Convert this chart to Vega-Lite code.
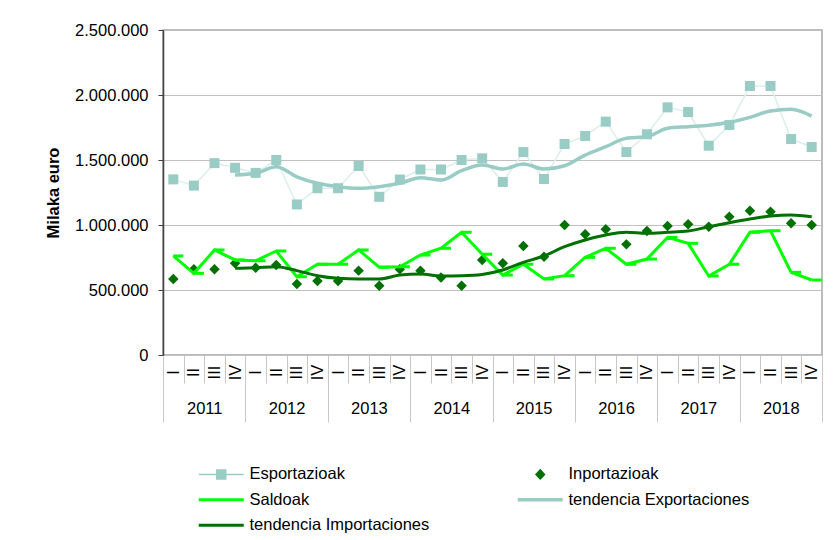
{
  "$schema": "https://vega.github.io/schema/vega-lite/v6.json",
  "width": 659,
  "height": 325,
  "autosize": {"type": "none"},
  "padding": {"left": 163, "top": 30, "right": 11, "bottom": 185},
  "background": "white",
  "config": {
    "font": "Liberation Sans",
    "view": {"stroke": "#A6A6A6", "strokeWidth": 1.5},
    "locale": {"number": {"decimal": ",", "thousands": ".", "grouping": [3], "currency": ["", " €"]}},
    "axisY": {
      "labelFontSize": 16.5, "labelColor": "#000000", "labelPadding": 10,
      "tickSize": 5, "tickColor": "#404040", "domainColor": "#404040", "domainWidth": 1.5,
      "gridColor": "#C0C0C0", "titleFontSize": 16.5, "titleFontWeight": "bold",
      "titleColor": "#000000", "titlePadding": 13
    }
  },
  "data": {
    "values": [
      {"q": "2011-I", "E": 1351000, "I": 585000, "S": 762000, "TE": null, "TI": null},
      {"q": "2011-II", "E": 1303000, "I": 659000, "S": 628000, "TE": null, "TI": null},
      {"q": "2011-III", "E": 1476000, "I": 659000, "S": 808000, "TE": null, "TI": null},
      {"q": "2011-IV", "E": 1440000, "I": 705000, "S": 731000, "TE": 1385000, "TI": 667000},
      {"q": "2012-I", "E": 1401000, "I": 672000, "S": 725000, "TE": 1398000, "TI": 672000},
      {"q": "2012-II", "E": 1500000, "I": 692000, "S": 800000, "TE": 1448000, "TI": 679000},
      {"q": "2012-III", "E": 1158000, "I": 546000, "S": 602000, "TE": 1371000, "TI": 649000},
      {"q": "2012-IV", "E": 1283000, "I": 569000, "S": 698000, "TE": 1321000, "TI": 610000},
      {"q": "2013-I", "E": 1283000, "I": 569000, "S": 698000, "TE": 1295000, "TI": 590000},
      {"q": "2013-II", "E": 1454000, "I": 649000, "S": 808000, "TE": 1282000, "TI": 585000},
      {"q": "2013-III", "E": 1217000, "I": 533000, "S": 675000, "TE": 1295000, "TI": 585000},
      {"q": "2013-IV", "E": 1350000, "I": 659000, "S": 679000, "TE": 1321000, "TI": 615000},
      {"q": "2014-I", "E": 1427000, "I": 649000, "S": 769000, "TE": 1364000, "TI": 623000},
      {"q": "2014-II", "E": 1427000, "I": 597000, "S": 821000, "TE": 1346000, "TI": 608000},
      {"q": "2014-III", "E": 1500000, "I": 533000, "S": 944000, "TE": 1418000, "TI": 610000},
      {"q": "2014-IV", "E": 1513000, "I": 731000, "S": 775000, "TE": 1461000, "TI": 620000},
      {"q": "2015-I", "E": 1331000, "I": 705000, "S": 615000, "TE": 1431000, "TI": 654000},
      {"q": "2015-II", "E": 1561000, "I": 838000, "S": 698000, "TE": 1469000, "TI": 713000},
      {"q": "2015-III", "E": 1354000, "I": 756000, "S": 585000, "TE": 1431000, "TI": 762000},
      {"q": "2015-IV", "E": 1623000, "I": 1000000, "S": 610000, "TE": 1456000, "TI": 833000},
      {"q": "2016-I", "E": 1685000, "I": 928000, "S": 751000, "TE": 1538000, "TI": 885000},
      {"q": "2016-II", "E": 1795000, "I": 967000, "S": 821000, "TE": 1602000, "TI": 923000},
      {"q": "2016-III", "E": 1561000, "I": 851000, "S": 698000, "TE": 1667000, "TI": 944000},
      {"q": "2016-IV", "E": 1698000, "I": 954000, "S": 738000, "TE": 1680000, "TI": 936000},
      {"q": "2017-I", "E": 1905000, "I": 992000, "S": 905000, "TE": 1744000, "TI": 944000},
      {"q": "2017-II", "E": 1869000, "I": 1005000, "S": 859000, "TE": 1756000, "TI": 954000},
      {"q": "2017-III", "E": 1610000, "I": 987000, "S": 608000, "TE": 1767000, "TI": 987000},
      {"q": "2017-IV", "E": 1769000, "I": 1064000, "S": 698000, "TE": 1790000, "TI": 1018000},
      {"q": "2018-I", "E": 2069000, "I": 1110000, "S": 944000, "TE": 1828000, "TI": 1046000},
      {"q": "2018-II", "E": 2069000, "I": 1102000, "S": 956000, "TE": 1877000, "TI": 1069000},
      {"q": "2018-III", "E": 1661000, "I": 1013000, "S": 636000, "TE": 1890000, "TI": 1077000},
      {"q": "2018-IV", "E": 1600000, "I": 1000000, "S": 577000, "TE": 1838000, "TI": 1064000}
    ]
  },
  "resolve": {"axis": {"x": "independent"}},
  "layer": [
    {
      "mark": {"type": "line", "stroke": "#DCEFEA", "strokeWidth": 1.5},
      "encoding": {
        "x": {
          "field": "q", "type": "ordinal",
          "scale": {"type": "band", "paddingInner": 0, "paddingOuter": 0},
          "axis": {
            "orient": "bottom", "title": null, "domain": false, "grid": false,
            "tickBand": "extent", "tickSize": 28, "tickColor": "#C8C8C8", "tickWidth": 1,
            "labelAngle": 270, "labelAlign": "center", "labelBaseline": "middle",
            "labelPadding": -11, "labelFontSize": 16.5, "labelColor": "#000000",
            "labelOverlap": false,
            "labelExpr": "split(datum.value, '-')[1]"
          }
        },
        "y": {
          "field": "E", "type": "quantitative", "title": "Milaka euro",
          "scale": {"domain": [0, 2500000], "nice": false},
          "axis": {"values": [0, 500000, 1000000, 1500000, 2000000, 2500000], "format": ",d"}
        }
      }
    },
    {
      "mark": {"type": "point", "shape": "square", "filled": true, "size": 100, "opacity": 1},
      "encoding": {
        "x": {
          "field": "q", "type": "ordinal",
          "axis": {
            "orient": "bottom", "title": null, "domain": false, "grid": false,
            "tickBand": "extent", "tickSize": 67, "tickColor": "#C8C8C8", "tickWidth": 1,
            "tickOpacity": {"condition": {"test": "datum.extra || indexof(datum.value, '-IV') > 0", "value": 1}, "value": 0},
            "labelAngle": 0, "labelAlign": "center", "labelBaseline": "middle",
            "labelPadding": -14, "labelOffset": 10.3, "labelFontSize": 16.5, "labelColor": "#000000",
            "labelOverlap": false,
            "labelExpr": "split(datum.value, '-')[1] == 'II' ? split(datum.value, '-')[0] : ''"
          }
        },
        "y": {"field": "E", "type": "quantitative", "title": "Milaka euro"},
        "color": {
          "datum": "Esportazioak", "type": "nominal",
          "scale": {
            "domain": ["Esportazioak", "Inportazioak", "Saldoak", "tendencia Exportaciones", "tendencia Importaciones"],
            "range": ["#99CCC4", "#007000", "#00FF00", "#99CCC4", "#007000"]
          },
          "legend": {
            "orient": "none", "legendX": 50, "legendY": 436, "columns": 2, "direction": "horizontal",
            "columnPadding": 80, "rowPadding": 8.5, "title": null, "padding": 0,
            "labelFontSize": 16.5, "labelColor": "#000000", "labelOffset": 20, "labelLimit": 400,
            "symbolSize": 225,
            "encoding": {
              "symbols": {
                "shape": {"value": {"expr": "datum.value == 'Esportazioak' ? 'M-3,0H3M-0.6,-0.6H0.6V0.6H-0.6Z' : datum.value == 'Inportazioak' ? 'M0,-0.75L0.7,0L0,0.75L-0.7,0Z' : 'M-3,0H3'"}},
                "stroke": {"value": {"expr": "datum.value == 'Esportazioak' ? '#DCEFEA' : datum.value == 'Inportazioak' ? 'transparent' : datum.value == 'Saldoak' ? '#00FF00' : datum.value == 'tendencia Exportaciones' ? '#99CCC4' : '#007000'"}},
                "fill": {"value": {"expr": "datum.value == 'Esportazioak' ? '#99CCC4' : datum.value == 'Inportazioak' ? '#007000' : 'transparent'"}},
                "strokeWidth": {"value": {"expr": "datum.value == 'Esportazioak' ? 1.5 : datum.value == 'Inportazioak' ? 0 : datum.value == 'tendencia Exportaciones' ? 3.5 : 3"}},
                "opacity": {"value": 1}
              }
            }
          }
        }
      }
    },
    {
      "mark": {"type": "point", "shape": "diamond", "filled": true, "size": 110, "opacity": 1},
      "encoding": {
        "x": {"field": "q", "type": "ordinal", "axis": null},
        "y": {"field": "I", "type": "quantitative", "title": "Milaka euro"},
        "color": {"datum": "Inportazioak", "type": "nominal"}
      }
    },
    {
      "mark": {"type": "line", "strokeWidth": 3},
      "encoding": {
        "x": {"field": "q", "type": "ordinal", "axis": null},
        "y": {"field": "S", "type": "quantitative", "title": "Milaka euro"},
        "color": {"datum": "Saldoak", "type": "nominal"}
      }
    },
    {
      "mark": {"type": "point", "shape": "M0,0H1", "filled": false, "size": 400, "strokeWidth": 3, "opacity": 1},
      "encoding": {
        "x": {"field": "q", "type": "ordinal", "axis": null},
        "y": {"field": "S", "type": "quantitative", "title": "Milaka euro"},
        "color": {"datum": "Saldoak", "type": "nominal"}
      }
    },
    {
      "mark": {"type": "line", "strokeWidth": 3.5, "interpolate": "monotone"},
      "encoding": {
        "x": {"field": "q", "type": "ordinal", "axis": null},
        "y": {"field": "TE", "type": "quantitative", "title": "Milaka euro"},
        "color": {"datum": "tendencia Exportaciones", "type": "nominal"}
      }
    },
    {
      "mark": {"type": "line", "strokeWidth": 3, "interpolate": "monotone"},
      "encoding": {
        "x": {"field": "q", "type": "ordinal", "axis": null},
        "y": {"field": "TI", "type": "quantitative", "title": "Milaka euro"},
        "color": {"datum": "tendencia Importaciones", "type": "nominal"}
      }
    }
  ]
}
